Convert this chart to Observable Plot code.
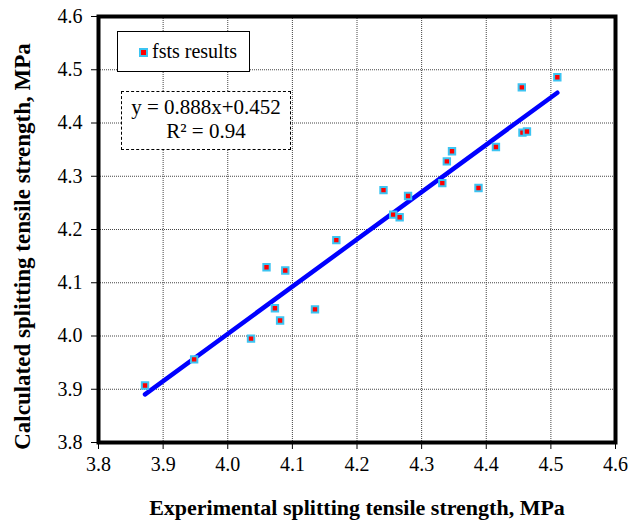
<!DOCTYPE html>
<html>
<head>
<meta charset="utf-8">
<script src="https://cdn.jsdelivr.net/npm/d3@7"></script>
<script src="https://cdn.jsdelivr.net/npm/@observablehq/plot@0.6"></script>
<style>
  html, body { margin: 0; padding: 0; background: #fff; }
  #wrap { position: relative; width: 630px; height: 527px; }
  .legend {
    position: absolute; left: 117px; top: 31px; width: 131px; height: 39px;
    border: 1.5px solid #000; background: #fff; box-sizing: content-box;
    font-family: "Liberation Serif", serif; font-size: 20px; color: #000;
  }
  .legend .sw {
    position: absolute; left: 21px; top: 16px; width: 5px; height: 5px;
    background: #ff0000; border: 2px solid #3cc4f2;
  }
  .legend .lt { position: absolute; left: 34px; top: 8px; white-space: nowrap; }
  .eq {
    position: absolute; left: 121px; top: 91px; width: 168px; height: 54px;
    border: 1.5px dashed #000; background: #fff;
    font-family: "Liberation Serif", serif; font-size: 21px; color: #000;
    text-align: center; line-height: 24px; padding-top: 3px; box-sizing: content-box;
  }
</style>
</head>
<body>
<div id="wrap"></div>
<script>
// ---- data ----
const experimental = [3.872, 3.948, 4.036, 4.060, 4.073, 4.081, 4.089, 4.135, 4.168, 4.241, 4.256, 4.266, 4.279, 4.332, 4.339, 4.347, 4.388, 4.415, 4.455, 4.456, 4.463, 4.510];
const calculated   = [3.907, 3.956, 3.995, 4.129, 4.052, 4.029, 4.123, 4.050, 4.180, 4.274, 4.228, 4.223, 4.263, 4.287, 4.328, 4.347, 4.278, 4.355, 4.467, 4.382, 4.384, 4.486];
const fitSlope = 0.888;
const fitIntercept = 0.452;
const rSquared = 0.94;
const xTicks = [3.8, 3.9, 4.0, 4.1, 4.2, 4.3, 4.4, 4.5, 4.6];
const yTicks = [3.8, 3.9, 4.0, 4.1, 4.2, 4.3, 4.4, 4.5, 4.6];
const seriesName = "fsts results";
const xTitle = "Experimental splitting tensile strength, MPa";
const yTitle = "Calculated splitting tensile strength, MPa";

const points = experimental.map((x, i) => ({x, y: calculated[i]}));
const [x0, x1] = d3.extent(experimental);
const fitLine = [x0, x1].map(x => ({x, y: fitSlope * x + fitIntercept}));

const fmt = d => d.toFixed(1);

const chart = Plot.plot({
  width: 630,
  height: 527,
  marginLeft: 98,
  marginRight: 15,
  marginTop: 16,
  marginBottom: 85,
  style: { fontFamily: "Liberation Serif, serif", fontSize: "20px", color: "#000", background: "#fff" },
  x: { domain: [3.8, 4.6] },
  y: { domain: [3.8, 4.6] },
  marks: [
    Plot.gridX(xTicks, { stroke: "#444", strokeOpacity: 1, strokeWidth: 1, strokeDasharray: "1,1" }),
    Plot.gridY(yTicks, { stroke: "#444", strokeOpacity: 1, strokeWidth: 1, strokeDasharray: "1,1" }),
    Plot.axisX({ ticks: xTicks, tickFormat: fmt, tickSize: 7, tickPadding: 7, label: null, fontSize: 20 }),
    Plot.axisY({ ticks: yTicks, tickFormat: fmt, tickSize: 7, tickPadding: 9, label: null, fontSize: 20 }),
    Plot.line(fitLine, { x: "x", y: "y", stroke: "#0000ff", strokeWidth: 4.5 }),
    Plot.dot(points, { x: "x", y: "y", symbol: "square", r: 3.6, fill: "#ff0000", stroke: "#3cc4f2", strokeWidth: 2 }),
    Plot.frame({ stroke: "#000", strokeWidth: 4 }),
    Plot.text([xTitle], { text: d => d, frameAnchor: "bottom", dy: 72, fontWeight: "bold", fontSize: 22 }),
    Plot.text([yTitle], { text: d => d, frameAnchor: "left", textAnchor: "middle", dx: -76, dy: 17, rotate: -90, fontWeight: "bold", fontSize: 23 })
  ]
});

const wrap = document.getElementById("wrap");
wrap.appendChild(chart);

const legend = document.createElement("div");
legend.className = "legend";
legend.innerHTML = `<div class="sw"></div><div class="lt"></div>`;
legend.querySelector(".lt").textContent = seriesName;
wrap.appendChild(legend);

const eq = document.createElement("div");
eq.className = "eq";
eq.innerHTML = `<div></div><div></div>`;
eq.children[0].textContent = `y = ${fitSlope.toFixed(3)}x+${fitIntercept.toFixed(3)}`;
eq.children[1].textContent = `R² = ${rSquared.toFixed(2)}`;
wrap.appendChild(eq);
</script>
</body>
</html>
